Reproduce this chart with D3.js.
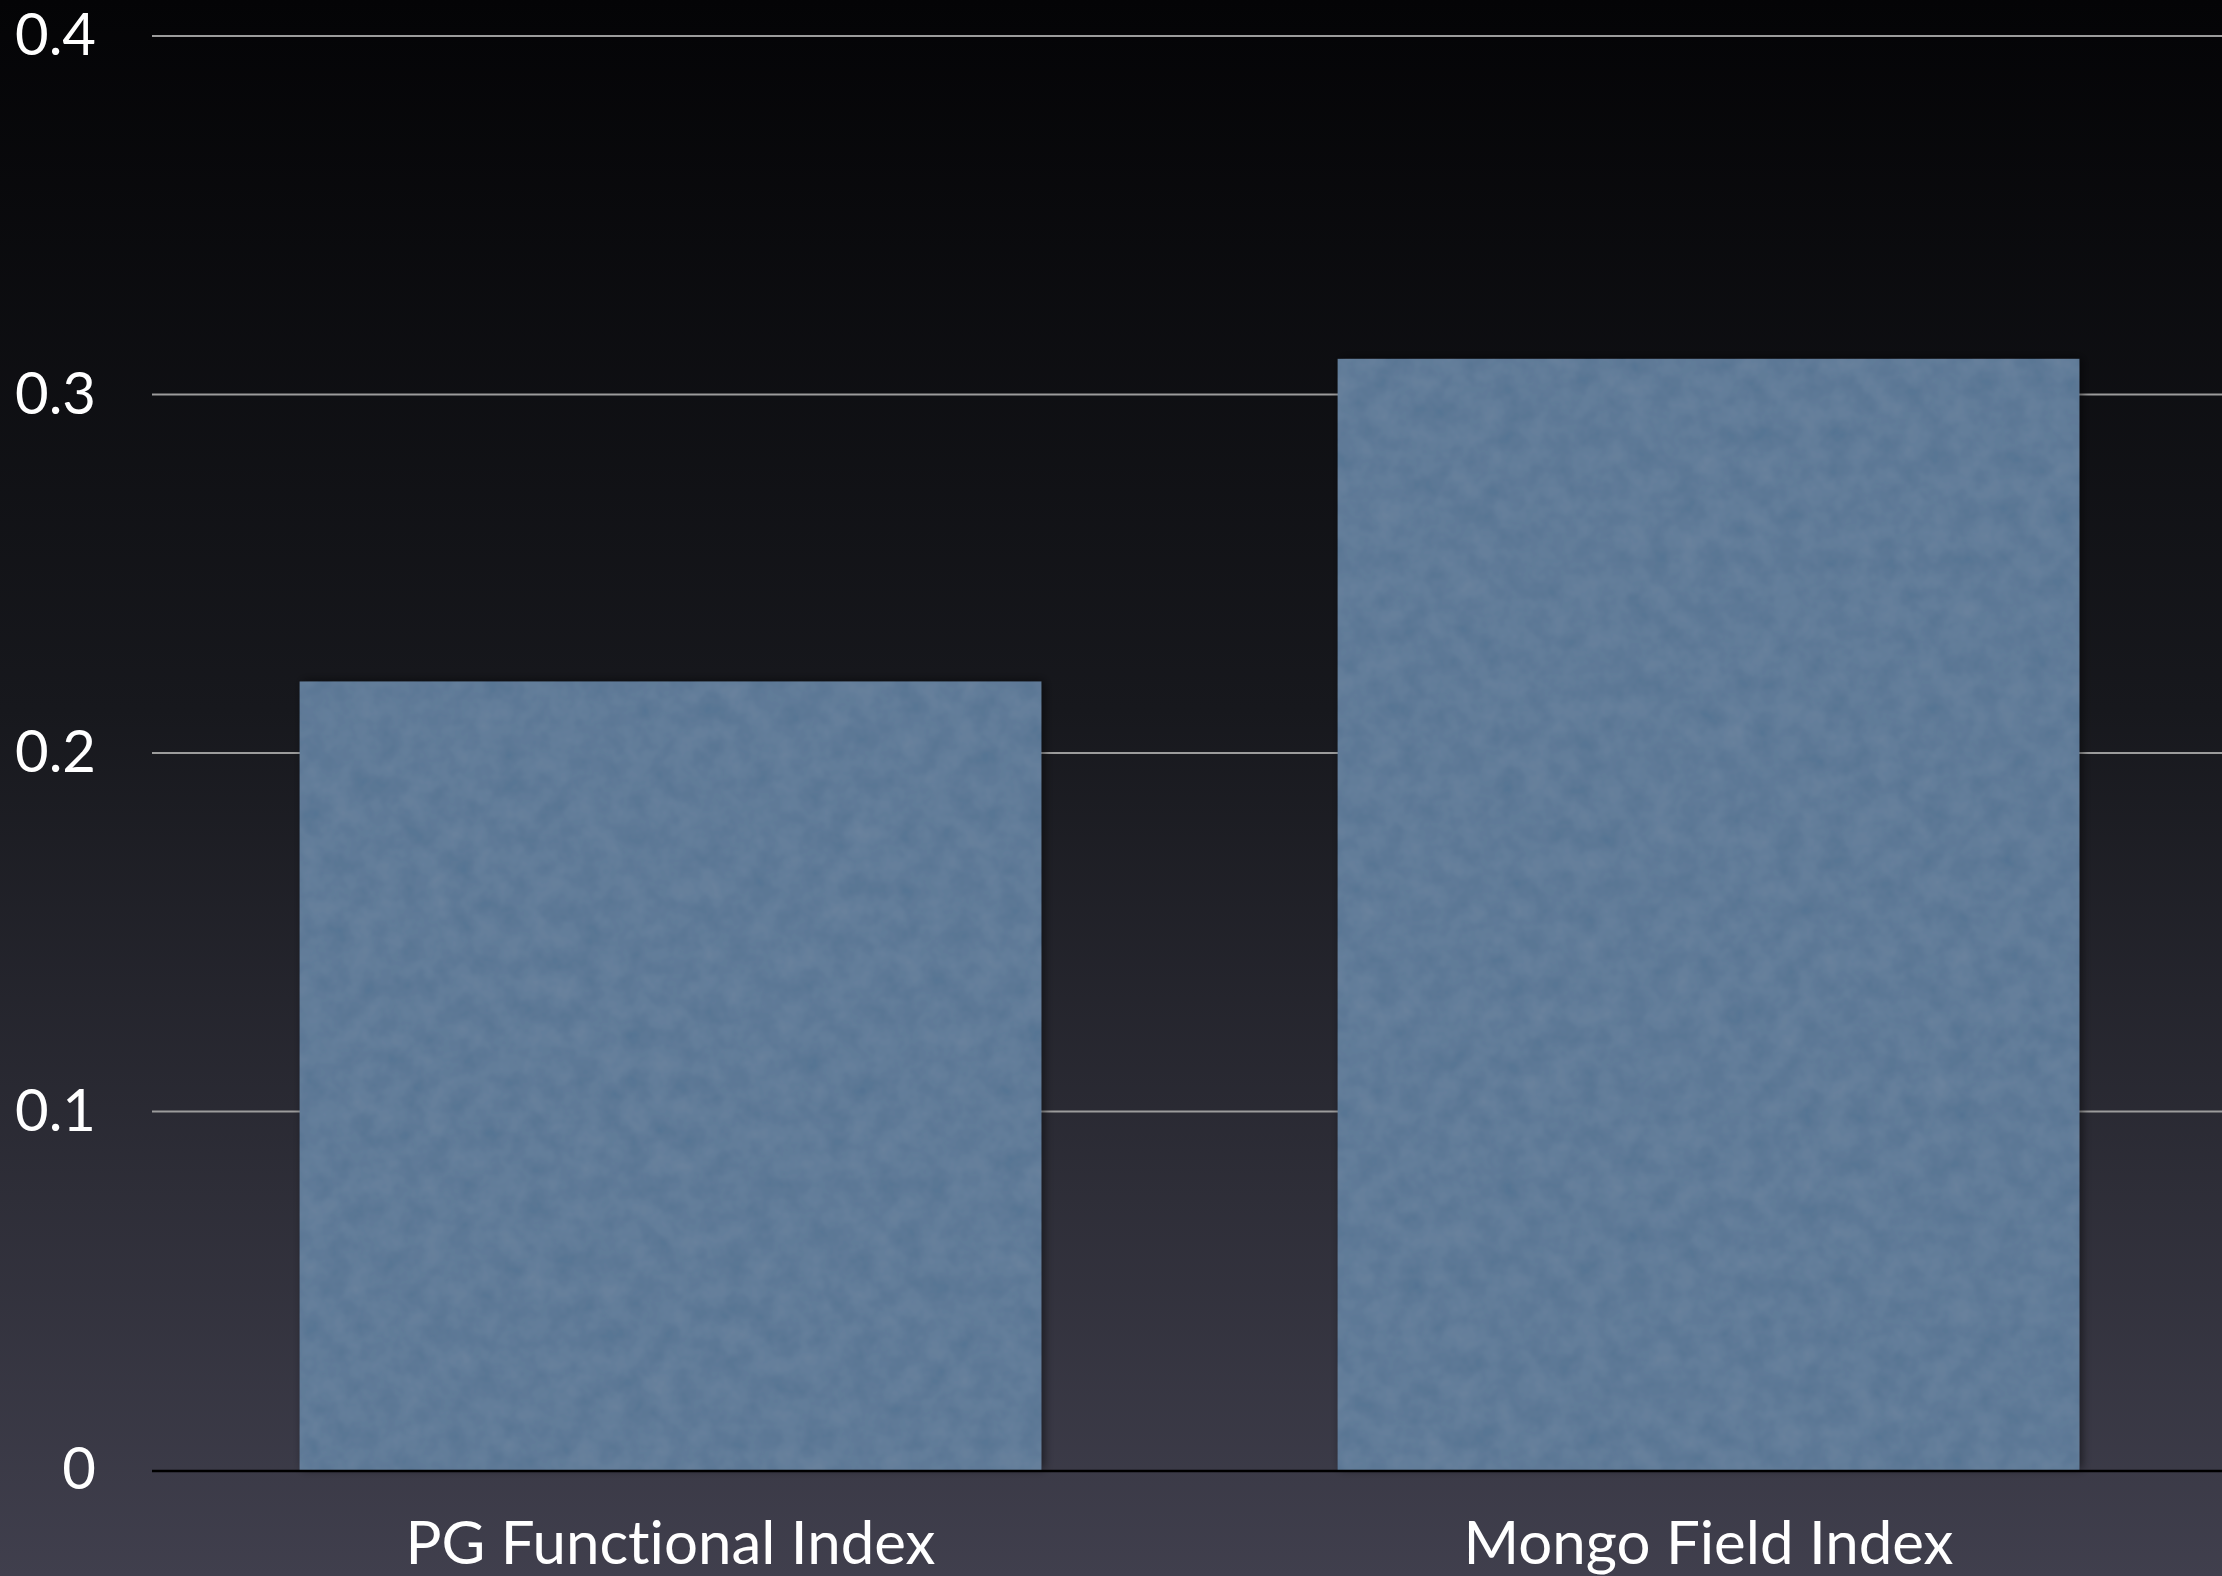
<!DOCTYPE html>
<html>
<head>
<meta charset="utf-8">
<script src="https://cdn.jsdelivr.net/npm/d3@7"></script>
<style>
	html, body {
		margin: 0;
		padding: 0;
		background: #000000;
	}

	svg {
		display: block;
	}

	text {
		font-family: Lato, "Open Sans", sans-serif;
		font-variant-ligatures: none;
		fill: #ffffff;
	}
</style>
</head>
<body>
<div id="chart"></div>
<script>
	const categories = ["PG Functional Index", "Mongo Field Index"];
	const values = [0.22, 0.31];
	const yTicks = [0, 0.1, 0.2, 0.3, 0.4];

	const theme = {
		width: 2222,
		height: 1576,
		left: 152,
		top: 36,
		bottom: 1470,
		barColor: "#607b98",
		gridColor: "#9c9c9c",
		tickFontSize: 58,
		labelFontSize: 60,
	};

	const svg = d3
		.select("#chart")
		.append("svg")
		.attr("width", theme.width)
		.attr("height", theme.height);

	const defs = svg.append("defs");

	// Background gradient, near black at the top, slate at the bottom
	const bg = defs
		.append("linearGradient")
		.attr("id", "bg")
		.attr("x1", 0)
		.attr("y1", 0)
		.attr("x2", 0)
		.attr("y2", 1);
	bg.append("stop").attr("offset", "0%").attr("stop-color", "#040406");
	bg.append("stop").attr("offset", "45%").attr("stop-color", "#17181d");
	bg.append("stop").attr("offset", "100%").attr("stop-color", "#403f4d");

	// Paper grain plus a soft shadow for the bars
	const filter = defs
		.append("filter")
		.attr("id", "paper")
		.attr("x", "-5%")
		.attr("y", "-5%")
		.attr("width", "110%")
		.attr("height", "110%");
	filter
		.append("feTurbulence")
		.attr("type", "fractalNoise")
		.attr("baseFrequency", 0.04)
		.attr("numOctaves", 3)
		.attr("seed", 7)
		.attr("result", "noise");
	filter
		.append("feColorMatrix")
		.attr("in", "noise")
		.attr("type", "matrix")
		.attr("values", "1 0 0 0 0  1 0 0 0 0  1 0 0 0 0  0 0 0 0 1")
		.attr("result", "grey");
	filter
		.append("feComposite")
		.attr("in", "SourceGraphic")
		.attr("in2", "grey")
		.attr("operator", "arithmetic")
		.attr("k1", 0)
		.attr("k2", 1)
		.attr("k3", 0.06)
		.attr("k4", -0.03)
		.attr("result", "grainy");
	filter
		.append("feComposite")
		.attr("in", "grainy")
		.attr("in2", "SourceGraphic")
		.attr("operator", "in")
		.attr("result", "textured");
	filter
		.append("feDropShadow")
		.attr("in", "textured")
		.attr("dx", 3)
		.attr("dy", -1)
		.attr("stdDeviation", 5)
		.attr("flood-color", "#000000")
		.attr("flood-opacity", 0.5);

	svg
		.append("rect")
		.attr("width", theme.width)
		.attr("height", theme.height)
		.attr("fill", "url(#bg)");

	const x = d3
		.scaleBand()
		.domain(categories)
		.range([theme.left, 2227])
		.paddingInner(0.285)
		.paddingOuter(0.142);

	const y = d3
		.scaleLinear()
		.domain([0, 0.4])
		.range([theme.bottom, theme.top]);

	// Horizontal grid lines
	svg
		.append("g")
		.selectAll("line")
		.data(yTicks.filter((d) => d > 0))
		.enter()
		.append("line")
		.attr("x1", theme.left)
		.attr("x2", theme.width)
		.attr("y1", (d) => y(d))
		.attr("y2", (d) => y(d))
		.attr("stroke", theme.gridColor)
		.attr("stroke-width", 2);

	// Bars
	svg
		.append("g")
		.selectAll("rect")
		.data(values)
		.enter()
		.append("rect")
		.attr("x", (d, i) => x(categories[i]))
		.attr("y", (d) => y(d))
		.attr("width", x.bandwidth())
		.attr("height", (d) => y(0) - y(d))
		.attr("fill", theme.barColor)
		.attr("filter", "url(#paper)");

	// Baseline
	svg
		.append("line")
		.attr("x1", theme.left)
		.attr("x2", theme.width)
		.attr("y1", y(0) + 1)
		.attr("y2", y(0) + 1)
		.attr("stroke", "#000000")
		.attr("stroke-width", 2.5);

	// Y axis labels
	const yAxis = svg
		.append("g")
		.attr("transform", "translate(96,0)")
		.call(
			d3
				.axisLeft(y)
				.tickValues(yTicks)
				.tickSize(0)
				.tickPadding(0)
				.tickFormat((d) => (d === 0 ? "0" : d3.format(".1f")(d))),
		);
	yAxis.select(".domain").remove();
	yAxis
		.selectAll("text")
		.attr("fill", "#ffffff")
		.style("font-size", theme.tickFontSize + "px")
		.style("font-family", "Lato, 'Open Sans', sans-serif");

	// X axis labels
	const xAxis = svg
		.append("g")
		.attr("transform", `translate(0,${theme.bottom})`)
		.call(d3.axisBottom(x).tickSize(0).tickPadding(0));
	xAxis.select(".domain").remove();
	xAxis
		.selectAll("text")
		.attr("dy", null)
		.attr("y", 94)
		.attr("fill", "#ffffff")
		.style("font-size", theme.labelFontSize + "px")
		.style("font-family", "Lato, 'Open Sans', sans-serif");
</script>
</body>
</html>
